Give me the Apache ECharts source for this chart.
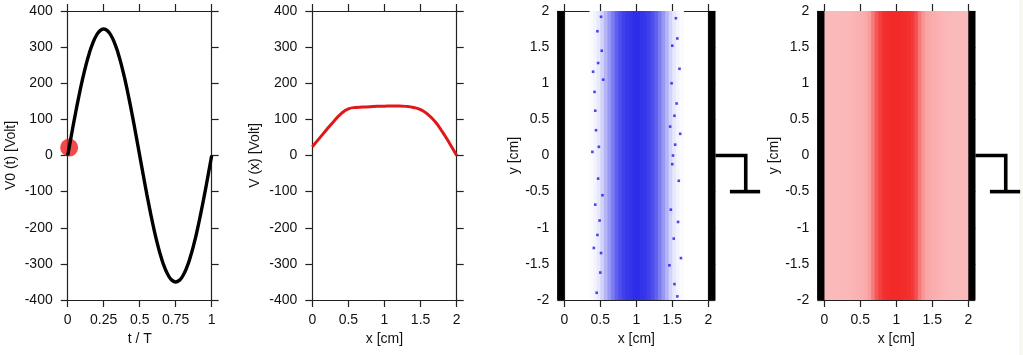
<!DOCTYPE html>
<html><head><meta charset="utf-8">
<script src="https://cdn.jsdelivr.net/npm/echarts@6/dist/echarts.min.js"></script>
<style>html,body{margin:0;padding:0;background:#fff}#c{width:1023px;height:355px}</style>
</head><body><div id="c"></div>
<script>
// ---- Panel 1: applied voltage over one period ----
const tValues = [0,0.025,0.05,0.075,0.1,0.125,0.15,0.175,0.2,0.225,0.25,0.275,0.3,0.325,0.35,0.375,0.4,0.425,0.45,0.475,0.5,
  0.525,0.55,0.575,0.6,0.625,0.65,0.675,0.7,0.725,0.75,0.775,0.8,0.825,0.85,0.875,0.9,0.925,0.95,0.975,1];
const v0Values = [0,54.8,108.2,158.9,205.7,247.5,283.2,311.9,332.9,345.7,350,345.7,332.9,311.9,283.2,247.5,205.7,158.9,108.2,54.8,0,
  -54.8,-108.2,-158.9,-205.7,-247.5,-283.2,-311.9,-332.9,-345.7,-350,-345.7,-332.9,-311.9,-283.2,-247.5,-205.7,-158.9,-108.2,-54.8,0];
const currentPoint = [[0.01, 22]];

// ---- Panel 2: potential across the gap ----
const xPositions = [0,0.1,0.2,0.3,0.4,0.5,0.6,0.7,0.8,0.9,1.0,1.1,1.2,1.3,1.4,1.5,1.6,1.7,1.8,1.9,2.0];
const vxValues   = [24,48,72,95,116,129,133,134,135,136,136.5,137,137,136,133,127,114,94,66,34,0];

// ---- Panel 3: blue particle cloud (dot density per x strip) ----
const blueBinLeft = [0.35,0.40,0.45,0.50,0.55,0.60,0.65,0.70,0.75,0.80,0.85,0.90,0.95,1.00,1.05,1.10,1.15,1.20,1.25,1.30,1.35,1.40,1.45,1.50,1.55,1.60];
const blueDensity = [0.02,0.05,0.1,0.2,0.33,0.46,0.58,0.7,0.78,0.84,0.88,0.9,0.92,0.92,0.9,0.88,0.84,0.78,0.7,0.58,0.46,0.33,0.2,0.1,0.05,0.02];
const blueOutliers = [[0.40,1.16],[0.43,0.62],[0.47,-0.32],[0.41,-1.28],[0.50,-1.62],[0.39,0.05],[0.46,1.72],[0.52,1.45],[0.44,0.35],
  [0.49,-0.9],[0.45,-1.9],[0.53,-0.55],[0.42,0.88],[0.51,1.92],[0.46,-1.1],[0.48,0.12],[0.54,1.05],[0.43,-0.68],[0.51,-1.35],[0.47,1.28],
  [1.60,1.2],[1.62,-1.42],[1.51,0.0],[1.56,0.72],[1.48,-0.75],[1.57,1.62],[1.53,-1.78],[1.59,-0.35],[1.47,0.4],[1.55,1.9],
  [1.52,-1.15],[1.49,1.0],[1.57,-1.95],[1.54,0.15],[1.50,1.52],[1.58,-0.92],[1.46,-1.52],[1.53,0.55],[1.61,0.3],[1.50,-0.12]];

// ---- Panel 4: red particle cloud ----
const redBinLeft = [0,0.05,0.1,0.15,0.2,0.25,0.3,0.35,0.4,0.45,0.5,0.55,0.6,0.65,0.7,0.75,0.8,0.85,0.9,0.95,
  1.0,1.05,1.1,1.15,1.2,1.25,1.3,1.35,1.4,1.45,1.5,1.55,1.6,1.65,1.7,1.75,1.8,1.85,1.9,1.95];
const redDensity = [0.3,0.3,0.3,0.3,0.31,0.31,0.31,0.32,0.33,0.34,0.35,0.37,0.43,0.58,0.74,0.84,0.9,0.92,0.93,0.93,
  0.93,0.93,0.92,0.91,0.87,0.77,0.58,0.46,0.39,0.37,0.35,0.34,0.33,0.32,0.31,0.31,0.3,0.3,0.3,0.3];
const binWidth = 0.05;

// electrodes and ground symbol (in cm)
const electrodes = [[-0.1,0],[2,2.1]];
const groundPath = [[2.1,0],[2.52,0],[2.52,-0.5]];
const groundBar = [[2.3,-0.5],[2.72,-0.5]];

const BLUE = [28,28,232], RED = [242,26,26];
function mix(c, d){ return 'rgb(' + c.map(v => Math.round(255 - d*(255 - v))).join(',') + ')'; }

const chart = echarts.init(document.getElementById('c'), null, {renderer:'canvas'});
const FONT = 'Liberation Sans, Helvetica, Arial, sans-serif';
const grids = [
  {left:67.7, top:11, width:144, height:289},
  {left:312.3, top:11, width:144.4, height:289},
  {left:564.3, top:11, width:144, height:289},
  {left:824.3, top:11, width:144, height:289}
];
const axisLine = {show:true, onZero:false, lineStyle:{color:'#222', width:1.2}};
const axisTick = {show:true, inside:false, length:7, lineStyle:{color:'#222', width:1.2}};
const lbl = {fontSize:14, color:'#111', fontFamily:FONT};
function xAx(g, min, max, interval, name){
  return [
    {gridIndex:g, type:'value', min, max, interval, position:'bottom', axisLine, axisTick, splitLine:{show:false},
     axisLabel:Object.assign({margin:13}, lbl), name, nameLocation:'middle', nameGap:31,
     nameTextStyle:{fontSize:14, color:'#111', fontFamily:FONT}},
    {gridIndex:g, type:'value', min, max, interval, position:'top', axisLine, axisTick, splitLine:{show:false}, axisLabel:{show:false}}
  ];
}
function yAx(g, min, max, interval, name, gap){
  return [
    {gridIndex:g, type:'value', min, max, interval, position:'left', axisLine, axisTick, splitLine:{show:false},
     axisLabel:Object.assign({margin:15}, lbl), name, nameLocation:'middle', nameGap:gap,
     nameTextStyle:{fontSize:14, color:'#111', fontFamily:FONT}},
    {gridIndex:g, type:'value', min, max, interval, position:'right', axisLine, axisTick, splitLine:{show:false}, axisLabel:{show:false}}
  ];
}
const xAxes = [].concat(xAx(0,0,1,0.25,'t / T'), xAx(1,0,2,0.5,'x [cm]'), xAx(2,0,2,0.5,'x [cm]'), xAx(3,0,2,0.5,'x [cm]'));
const yAxes = [].concat(yAx(0,-400,400,100,'V0 (t) [Volt]',50), yAx(1,-400,400,100,'V (x) [Volt]',50),
                        yAx(2,-2,2,0.5,'y [cm]',43), yAx(3,-2,2,0.5,'y [cm]',43));

function bandSeries(g, lefts, dens, col){
  return {type:'custom', xAxisIndex:2*g, yAxisIndex:2*g, z:2,
    data: lefts.map((x,i)=>[x, x+binWidth, dens[i]]),
    renderItem:(params, api)=>{
      const p0 = api.coord([api.value(0), 2]), p1 = api.coord([api.value(1), -2]);
      return {type:'rect', shape:{x:p0[0], y:p0[1], width:p1[0]-p0[0]+0.8, height:p1[1]-p0[1]},
              style:{fill:mix(col, api.value(2))}};
    }};
}
function wallSeries(g){
  return {type:'custom', xAxisIndex:2*g, yAxisIndex:2*g, z:5, clip:false,
    data: electrodes,
    renderItem:(params, api)=>{
      const p0 = api.coord([api.value(0), 2]), p1 = api.coord([api.value(1), -2]);
      return {type:'rect', shape:{x:p0[0], y:p0[1], width:p1[0]-p0[0], height:p1[1]-p0[1]}, style:{fill:'#000'}};
    }};
}
function groundSeries(g){
  return {type:'custom', xAxisIndex:2*g, yAxisIndex:2*g, z:5, clip:false, silent:true,
    data:[0],
    renderItem:(params, api)=>({type:'group', children:[
      {type:'polyline', shape:{points:groundPath.map(p=>api.coord(p))}, style:{stroke:'#000', lineWidth:3.6, fill:null, lineJoin:'miter', lineCap:'butt'}},
      {type:'polyline', shape:{points:groundBar.map(p=>api.coord(p))}, style:{stroke:'#000', lineWidth:3.6, fill:null, lineCap:'butt'}}
    ]})};
}

const option = {
  animation:false,
  backgroundColor:'#fff',
  grid: grids,
  xAxis: xAxes,
  yAxis: yAxes,
  graphic: [{type:'rect', shape:{x:1019, y:0, width:4, height:355}, style:{fill:'#f8f8f1'}, z:-1}],
  series: [
    {type:'scatter', xAxisIndex:0, yAxisIndex:0, data:currentPoint, symbolSize:18, itemStyle:{color:'#f21c1c'}, z:1},
    {type:'line', xAxisIndex:0, yAxisIndex:0, data:tValues.map((t,i)=>[t, v0Values[i]]), smooth:true, showSymbol:false,
     lineStyle:{color:'#000', width:3.4}, z:3},
    {type:'line', xAxisIndex:2, yAxisIndex:2, data:xPositions.map((x,i)=>[x, vxValues[i]]), smooth:true, showSymbol:false,
     lineStyle:{color:'#e01818', width:3}, z:3},
    bandSeries(2, blueBinLeft, blueDensity, BLUE),
    {type:'scatter', xAxisIndex:4, yAxisIndex:4, data:blueOutliers, symbol:'rect', symbolSize:2.6, itemStyle:{color:'rgb(28,28,232)'}, z:3},
    wallSeries(2), groundSeries(2),
    bandSeries(3, redBinLeft, redDensity, RED),
    wallSeries(3), groundSeries(3)
  ]
};
chart.setOption(option);
</script>
</body></html>
